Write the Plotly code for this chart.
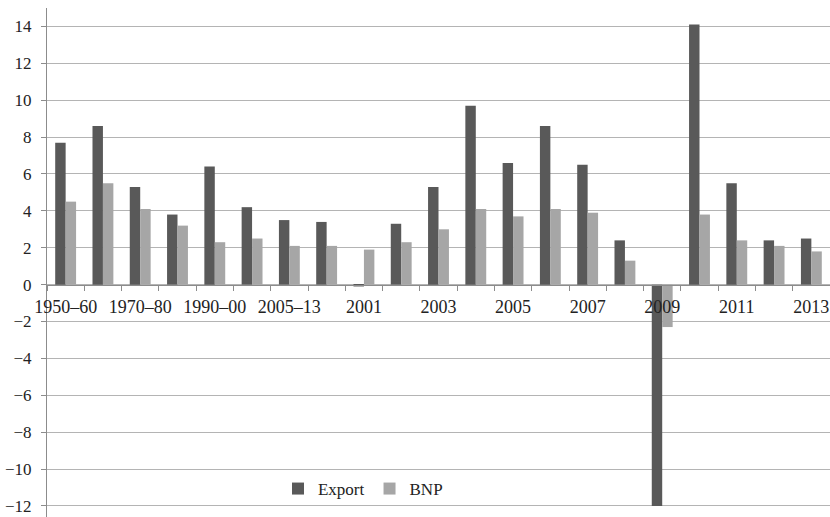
import plotly.graph_objects as go

categories = ["1950–60", "1960–70", "1970–80", "1980–90", "1990–00", "2000–05", "2005–13",
              "2000", "2001", "2002", "2003", "2004", "2005", "2006", "2007", "2008",
              "2009", "2010", "2011", "2012", "2013"]
export = [7.7, 8.6, 5.3, 3.8, 6.4, 4.2, 3.5, 3.4, -0.1, 3.3, 5.3, 9.7, 6.6, 8.6, 6.5, 2.4,
          -12.0, 14.1, 5.5, 2.4, 2.5]
bnp = [4.5, 5.5, 4.1, 3.2, 2.3, 2.5, 2.1, 2.1, 1.9, 2.3, 3.0, 4.1, 3.7, 4.1, 3.9, 1.3,
       -2.3, 3.8, 2.4, 2.1, 1.8]
y_ticks = list(range(-12, 15, 2))

# every other category gets a visible label on the zero line
tick_text = [c if i % 2 == 0 else "" for i, c in enumerate(categories)]

Y_MIN, Y_MAX = -12.6, 15.0
zero_pos = (0 - Y_MIN) / (Y_MAX - Y_MIN)

FONT = "Liberation Serif"

fig = go.Figure()
fig.add_trace(go.Bar(x=categories, y=export, name="Export",
                     marker=dict(color="#595959", line=dict(width=0))))
fig.add_trace(go.Bar(x=categories, y=bnp, name="BNP",
                     marker=dict(color="#a6a6a6", line=dict(width=0))))

fig.update_layout(
    width=830, height=517,
    margin=dict(l=47, r=0, t=8, b=0),
    paper_bgcolor="white", plot_bgcolor="white",
    barmode="group", bargap=0.44, bargroupgap=0,
    font=dict(family=FONT, size=17, color="#222222"),
    legend=dict(orientation="h", x=0.295, y=0.055, xanchor="left", yanchor="middle",
                bgcolor="rgba(0,0,0,0)", font=dict(family=FONT, size=17),
                itemwidth=30, traceorder="normal"),
    xaxis=dict(
        type="category",
        anchor="free", position=zero_pos,
        showline=True, linecolor="#8c8c8c", linewidth=1,
        showgrid=False, zeroline=False,
        tickmode="array", tickvals=categories, ticktext=tick_text,
        tickangle=0, ticklabelstandoff=6,
        ticks="outside", tickson="boundaries", ticklen=5, tickcolor="#8c8c8c",
        tickfont=dict(family=FONT, size=18, color="#222222"),
        range=[-0.5, len(categories) - 0.5],
    ),
    yaxis=dict(
        range=[Y_MIN, Y_MAX],
        tickvals=y_ticks,
        showline=True, linecolor="#8c8c8c", linewidth=1,
        showgrid=True, gridcolor="#b4b4b4", gridwidth=1,
        zeroline=False,
        ticks="outside", ticklen=5, tickcolor="#8c8c8c",
        ticklabelstandoff=6,
        tickfont=dict(family=FONT, size=17, color="#222222"),
    ),
)

fig.write_html("out.html")
